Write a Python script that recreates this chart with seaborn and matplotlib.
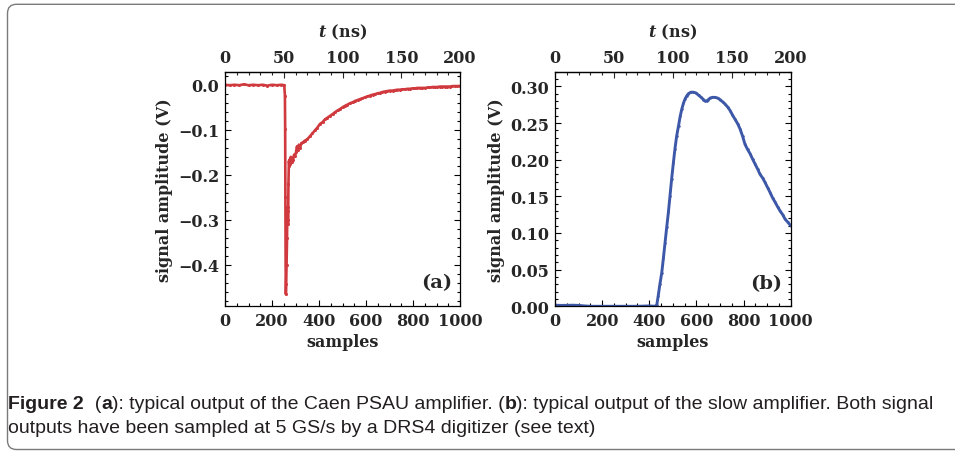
import matplotlib
matplotlib.use("Agg")
import matplotlib.pyplot as plt
import seaborn as sns
import numpy as np
import pandas as pd
from matplotlib.patches import PathPatch
from matplotlib.path import Path
from matplotlib.transforms import IdentityTransform
from matplotlib.ticker import MultipleLocator, FuncFormatter

# ---------------- data ----------------
samples_a = [0, 20, 40, 60, 80, 100, 120, 140, 160, 180, 200, 220, 240, 252,
             255, 256, 257, 258, 259, 260, 262, 264, 265, 266, 267, 268, 269,
             270, 272, 274, 276, 278, 280, 283, 286, 290, 294, 298, 302, 306,
             310, 314, 319, 325, 333, 340, 350, 362, 372, 383, 393, 404, 415,
             425, 436, 447, 458, 468, 479, 489, 500, 510, 521, 532, 543, 553,
             564, 574, 585, 595, 606, 617, 628, 638, 649, 660, 670, 680, 691,
             702, 713, 723, 734, 745, 755, 766, 777, 787, 798, 808, 819, 830,
             840, 851, 862, 872, 883, 893, 904, 915, 925, 936, 946, 957, 968,
             978, 989, 1000]
values_a = [0.000, -0.001, 0.000, -0.001, 0.001, -0.001, 0.000, -0.001, 0.000,
            -0.002, 0.000, -0.001, 0.000, -0.001,
            -0.024, -0.098, -0.250, -0.400, -0.465, -0.443, -0.400, -0.340,
            -0.287, -0.300, -0.272, -0.310, -0.280,
            -0.220, -0.169, -0.180, -0.165, -0.176, -0.160, -0.172, -0.163,
            -0.166, -0.155, -0.158, -0.150, -0.137, -0.145, -0.133, -0.140,
            -0.130, -0.127, -0.124, -0.121, -0.114, -0.108, -0.101, -0.095,
            -0.087, -0.083, -0.077, -0.073, -0.069, -0.065, -0.061, -0.057,
            -0.054, -0.050, -0.047, -0.044, -0.041, -0.039, -0.036, -0.034,
            -0.032, -0.030, -0.028, -0.026, -0.024, -0.022, -0.021, -0.019,
            -0.018, -0.016, -0.015, -0.014, -0.013, -0.013, -0.012, -0.011,
            -0.011, -0.010, -0.010, -0.009, -0.009, -0.008, -0.008, -0.007,
            -0.007, -0.007, -0.007, -0.006, -0.006, -0.005, -0.005, -0.005,
            -0.004, -0.004, -0.004, -0.004, -0.004, -0.003, -0.003, -0.003,
            -0.003]

samples_b = [0, 25, 50, 75, 100, 125, 150, 200, 250, 300, 350, 400, 424, 432,
             438, 445, 453, 460, 467, 474, 481, 488, 495, 502, 509, 516, 524,
             531, 538, 545, 552, 559, 566, 576, 587, 598, 609, 620, 630, 637,
             644, 651, 658, 668, 679, 690, 700, 711, 721, 732, 743, 753, 764,
             775, 785, 796, 806, 817, 828, 838, 849, 860, 870, 881, 891, 902,
             913, 923, 934, 944, 955, 966, 976, 987, 1000]
values_b = [0.0015, 0.0012, 0.0013, 0.0015, 0.0012, 0.0005, 0.0, 0.0, 0.0, 0.0,
            0.0, 0.0005, 0.0, 0.002, 0.0145, 0.030, 0.046, 0.066, 0.087,
            0.108, 0.128, 0.151, 0.174, 0.195, 0.215, 0.232, 0.246, 0.259,
            0.269, 0.277, 0.283, 0.287, 0.290, 0.292, 0.292, 0.291, 0.288,
            0.285, 0.282, 0.280, 0.280, 0.282, 0.284, 0.285, 0.285, 0.284,
            0.282, 0.279, 0.276, 0.272, 0.267, 0.261, 0.255, 0.249, 0.242,
            0.232, 0.221, 0.214, 0.208, 0.201, 0.194, 0.187, 0.180, 0.175,
            0.169, 0.162, 0.155, 0.148, 0.142, 0.136, 0.130, 0.125, 0.119,
            0.115, 0.110]

xticks_samples = [0, 200, 400, 600, 800, 1000]
xticks_ns = [0, 50, 100, 150, 200]
yticks_a = [0.0, -0.1, -0.2, -0.3, -0.4]
yticks_b = [0.00, 0.05, 0.10, 0.15, 0.20, 0.25, 0.30]

caption_line1 = [("Figure 2", "bold"), ("  (", "normal"), ("a", "bold"),
                 ("): typical output of the Caen PSAU amplifier. (", "normal"),
                 ("b", "bold"),
                 ("): typical output of the slow amplifier. Both signal", "normal")]
caption_line2 = [("outputs have been sampled at 5 GS/s by a DRS4 digitizer (see text)", "normal")]

# ---------------- style ----------------
sns.set_theme(style="ticks")
plt.rcParams["font.family"] = ["DejaVu Serif"]
plt.rcParams["font.weight"] = "bold"
plt.rcParams["axes.labelweight"] = "bold"
plt.rcParams["mathtext.fontset"] = "custom"
plt.rcParams["mathtext.it"] = "DejaVu Serif:italic:bold"
plt.rcParams["mathtext.rm"] = "DejaVu Serif:bold"

RED = "#d03a3e"
BLUE = "#3d58a8"
FS = 11.5

W, H = 955, 452
fig = plt.figure(figsize=(W / 100, H / 100), dpi=100)
fig.patch.set_facecolor("white")

# open frame: top line, rounded top-left corner, left line, rounded bottom-left
x0, ytop, ybot, r = 7.5, H - 5.3, H - 450.5, 9.0
frame_path = Path(
    [(W + 0.5, ytop), (x0 + r, ytop), (x0, ytop), (x0, ytop - r),
     (x0, ybot + r), (x0, ybot), (x0 + r, ybot), (W + 0.5, ybot)],
    [Path.MOVETO, Path.LINETO, Path.CURVE3, Path.CURVE3,
     Path.LINETO, Path.CURVE3, Path.CURVE3, Path.LINETO])
fig.patches.append(PathPatch(frame_path, transform=IdentityTransform(),
                             fill=False, edgecolor="#7a7a7a", linewidth=1.0,
                             clip_on=False))

axA = fig.add_axes([225 / W, 1 - 307 / H, 235 / W, (307 - 72.7) / H])
axB = fig.add_axes([555 / W, 1 - 307.3 / H, 235.7 / W, (307.3 - 72.7) / H])


def minus_fmt(fmt):
    return FuncFormatter(lambda v, p: (fmt % v).replace("-", "\u2212")
                         if abs(v) > 1e-12 else fmt % 0.0)


def style_axis(ax, yt, ymin, ymax, minor_y, fmt):
    ax.set_xlim(0, 1000)
    ax.set_ylim(ymin, ymax)
    ax.set_xticks(xticks_samples)
    ax.xaxis.set_minor_locator(MultipleLocator(50))
    ax.set_yticks(yt)
    ax.yaxis.set_minor_locator(MultipleLocator(minor_y))
    ax.yaxis.set_major_formatter(minus_fmt(fmt))
    ax.tick_params(which="both", direction="in", top=False, right=True,
                   color="black", width=0.8, labelsize=FS, pad=4)
    ax.tick_params(which="major", length=4.5)
    ax.tick_params(which="minor", length=2.3)
    for s in ax.spines.values():
        s.set_visible(True)
        s.set_linewidth(0.9)
        s.set_color("black")
    for lab in ax.get_xticklabels() + ax.get_yticklabels():
        lab.set_fontweight("bold")
    ax.set_xlabel("samples", fontsize=FS, fontweight="bold", labelpad=3)
    ax.set_ylabel("signal amplitude (V)", fontsize=FS, fontweight="bold",
                  labelpad=4)
    sec = ax.secondary_xaxis("top", functions=(lambda s: s / 5.0,
                                               lambda t: t * 5.0))
    sec.set_xticks(xticks_ns)
    sec.xaxis.set_minor_locator(MultipleLocator(10))
    sec.tick_params(which="both", direction="in", width=0.8, labelsize=FS,
                    pad=4)
    sec.tick_params(which="major", length=4.5)
    sec.tick_params(which="minor", length=2.3)
    sec.spines["top"].set_linewidth(0.9)
    for lab in sec.get_xticklabels():
        lab.set_fontweight("bold")
    sec.set_xlabel(r"$t$ (ns)", fontsize=FS, fontweight="bold", labelpad=9)
    ax.set_facecolor("white")


dfA = pd.DataFrame({"samples": samples_a, "amp": values_a})
dfB = pd.DataFrame({"samples": samples_b, "amp": values_b})

sns.lineplot(data=dfA, x="samples", y="amp", ax=axA, color=RED,
             linewidth=1.9, marker="o", markersize=2.2, markeredgewidth=0,
             sort=False)
sns.lineplot(data=dfB, x="samples", y="amp", ax=axB, color=BLUE,
             linewidth=2.1, marker="o", markersize=1.8, markeredgewidth=0,
             sort=False)

style_axis(axA, yticks_a, -0.491, 0.029, 0.02, "%.1f")
style_axis(axB, yticks_b, 0.0, 0.32, 0.01, "%.2f")

axA.text(0.965, 0.10, "(a)", transform=axA.transAxes, ha="right",
         va="center", fontsize=14, fontweight="bold")
axB.text(0.965, 0.10, "(b)", transform=axB.transAxes, ha="right",
         va="center", fontsize=14, fontweight="bold")

# ---------------- caption ----------------
CAP_FAMILY = ["Liberation Sans", "DejaVu Sans"]
CAP_FS = 14.0
renderer = fig.canvas.get_renderer()


def draw_runs(runs, x, y_top):
    for txt, wt in runs:
        t = fig.text(x, H - y_top, txt, transform=IdentityTransform(),
                     fontsize=CAP_FS, fontweight=wt, family=CAP_FAMILY,
                     color="#231f20", ha="left", va="baseline")
        bb = t.get_window_extent(renderer)
        x = bb.x1


draw_runs(caption_line1, 8, 409)
draw_runs(caption_line2, 8, 433)

fig.savefig("out.png", dpi=100, facecolor="white")
